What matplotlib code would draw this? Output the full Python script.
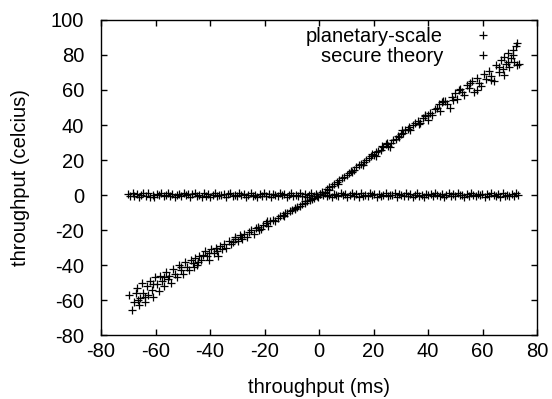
import matplotlib
matplotlib.use("Agg")
import matplotlib.pyplot as plt

plt.rcParams['font.family'] = ['Liberation Sans', 'DejaVu Sans']
plt.rcParams['axes.unicode_minus'] = False

# series 1: diagonal band
planetary = [
    (-69.8, -57), (-68.6, -65.5), (-68.0, -61), (-67.3, -56), (-66.8, -53), (-66.2, -63),
    (-65.6, -59), (-65.0, -50), (-64.5, -56), (-63.8, -61), (-63.2, -52), (-62.7, -57),
    (-62.0, -49), (-61.4, -54), (-60.8, -58), (-60.2, -47), (-59.5, -51), (-58.8, -55),
    (-58.2, -46), (-57.6, -49), (-57.0, -52), (-56.3, -44), (-55.6, -48), (-54.9, -46),
    (-54.2, -50), (-53.5, -42), (-52.8, -45), (-52.1, -47), (-51.4, -40), (-50.7, -43),
    (-50.0, -45), (-49.2, -38), (-48.5, -41), (-47.8, -43), (-47.0, -37), (-46.3, -39),
    (-45.6, -36), (-44.9, -40), (-44.1, -35), (-43.4, -37), (-42.6, -34), (-41.8, -32),
    (-41.0, -35), (-40.3, -37), (-39.5, -31), (-38.7, -33), (-37.9, -30), (-37.2, -35),
    (-36.4, -29), (-35.6, -31), (-34.8, -28), (-34.0, -30), (-33.2, -26), (-32.4, -28),
    (-31.5, -27), (-30.7, -24), (-29.9, -26), (-29.0, -23), (-28.2, -25), (-27.4, -22),
    (-26.5, -24), (-25.7, -21), (-24.8, -20), (-24.0, -22), (-23.1, -19), (-22.3, -18),
    (-21.4, -19.5), (-20.5, -17), (-19.6, -16), (-18.8, -17.5), (-17.9, -15), (-17.0, -14),
    (-16.1, -15), (-15.2, -13), (-14.3, -12), (-13.4, -11.5), (-12.5, -10.5), (-11.6, -10),
    (-10.7, -9), (-9.8, -8.5), (-8.9, -7.5), (-8.0, -7), (-7.1, -6), (-6.2, -5),
    (-5.3, -4.5), (-4.4, -3.5), (-3.5, -3), (-2.6, -2), (-1.7, -1.5), (-0.8, -0.5),
    (0.2, 0.5), (1.1, 1.5), (2.0, 2), (2.9, 3.5), (3.8, 4.5), (4.7, 5),
    (5.6, 6.5), (6.5, 7.5), (7.4, 8.5), (8.3, 9.5), (9.2, 10.5), (10.1, 11.5),
    (11.0, 12.5), (11.9, 14), (12.8, 14.5), (13.7, 16), (14.6, 17), (15.5, 17.5),
    (16.4, 19), (17.3, 20), (18.2, 21), (19.1, 22.5), (20.0, 23), (20.9, 24.5),
    (21.8, 25), (22.7, 26), (23.6, 27.5), (24.5, 29), (25.4, 28), (26.3, 30),
    (27.2, 31.5), (28.1, 32), (29.0, 34), (29.9, 35), (30.8, 35.5), (31.7, 37),
    (32.6, 38), (33.5, 37), (34.4, 40), (35.3, 41), (36.2, 42.5), (37.1, 41),
    (38.0, 44), (38.9, 45), (39.8, 43), (40.7, 47), (41.6, 46), (42.5, 49),
    (43.4, 50), (44.3, 48), (45.2, 53), (46.1, 54), (47.0, 52), (47.9, 50),
    (48.8, 56), (49.7, 58), (50.6, 55), (51.5, 60), (52.4, 59), (53.3, 57),
    (54.2, 63), (55.1, 61), (56.0, 65), (56.9, 59), (57.8, 67), (58.7, 64),
    (59.6, 62), (60.5, 69), (61.4, 66), (62.3, 71), (63.2, 68), (64.1, 65),
    (65.0, 74), (65.9, 70), (66.8, 77), (67.4, 72), (68.0, 79), (68.6, 75),
    (69.2, 81), (69.8, 73), (70.4, 78), (71.0, 83), (71.6, 76), (72.2, 85),
    (72.8, 87), (73.5, 75),
    # extra points in the denser clusters
    (-66.5, -60), (-64.0, -58), (-61.0, -51), (-57.0, -47), (-50.5, -41), (-46.0, -41),
    (-44.5, -38), (-40.5, -33), (-37.5, -32), (-31.0, -25), (-28.5, -24), (-22.0, -20),
    (-19.0, -15), (-13.0, -12), (-9.0, -8), (-5.0, -3.5), (3.5, 3), (7.0, 6.5),
    (12.0, 13), (16.0, 17), (19.5, 23.5), (21.0, 22.5), (23.0, 28), (25.0, 30),
    (26.0, 27.5), (29.5, 33), (30.5, 37), (33.0, 39), (36.5, 40.5), (39.0, 46),
    (40.0, 45.5), (44.0, 52), (45.5, 54), (49.0, 54.5), (51.8, 60.5), (55.5, 64),
    (58.0, 60), (63.0, 65.5), (66.0, 73), (67.8, 68.5), (69.5, 76), (71.3, 80),
    (72.5, 74),
]

# series 2: flat line near zero
secure = [
    (-70.1, 0.4), (-69.3, -0.8), (-68.4, 1.1), (-67.8, -0.3), (-66.9, 0.7), (-66.0, -1.2),
    (-65.2, 0.1), (-64.5, 0.9), (-63.6, -0.5), (-62.9, 1.3), (-62.0, -0.9), (-61.1, 0.2),
    (-60.4, -1.1), (-59.5, 0.6), (-58.8, -0.1), (-57.9, 1.0), (-57.0, -0.7), (-56.3, 0.3),
    (-55.4, 1.2), (-54.6, -0.4), (-53.8, 0.8), (-53.0, -1.0), (-52.1, 0.0), (-51.4, 0.5),
    (-50.5, -0.6), (-49.7, 1.1), (-48.9, -0.2), (-48.0, 0.7), (-47.2, -1.3), (-46.5, 0.4),
    (-45.6, 0.9), (-44.8, -0.5), (-44.0, 0.2), (-43.1, -0.9), (-42.3, 1.2), (-41.6, -0.3),
    (-40.7, 0.6), (-39.9, -1.1), (-39.0, 0.1), (-38.3, 1.0), (-37.4, -0.6), (-36.6, 0.3),
    (-35.8, -0.2), (-34.9, 0.8), (-34.1, -1.0), (-33.4, 0.5), (-32.5, 1.3), (-31.7, -0.4),
    (-30.8, 0.0), (-30.0, -0.8), (-29.2, 0.9), (-28.5, -0.1), (-27.6, 0.6), (-26.8, -1.2),
    (-25.9, 0.3), (-25.1, 1.1), (-24.3, -0.5), (-23.5, 0.2), (-22.6, -0.9), (-21.8, 0.7),
    (-21.0, -0.3), (-20.2, 1.0), (-19.3, -0.7), (-18.5, 0.4), (-17.7, -1.1), (-16.9, 0.8),
    (-16.0, 0.0), (-15.2, -0.6), (-14.4, 1.2), (-13.5, -0.2), (-12.7, 0.5), (-11.9, -1.0),
    (-11.1, 0.3), (-10.2, 0.9), (-9.4, -0.4), (-8.6, 0.1), (-7.7, -0.8), (-6.9, 1.1),
    (-6.1, -0.3), (-5.3, 0.6), (-4.4, -1.2), (-3.6, 0.2), (-2.8, 1.0), (-2.0, -0.5),
    (-1.1, 0.4), (-0.3, -0.9), (0.5, 0.7), (1.4, -0.1), (2.2, 1.2), (3.0, -0.7),
    (3.8, 0.3), (4.7, -1.0), (5.5, 0.8), (6.3, 0.0), (7.1, -0.6), (8.0, 1.1),
    (8.8, -0.2), (9.6, 0.5), (10.4, -1.1), (11.3, 0.2), (12.1, 0.9), (12.9, -0.4),
    (13.7, 0.6), (14.6, -0.9), (15.4, 1.3), (16.2, -0.3), (17.0, 0.1), (17.9, -0.7),
    (18.7, 1.0), (19.5, -0.1), (20.3, 0.4), (21.2, -1.2), (22.0, 0.7), (22.8, -0.5),
    (23.6, 0.2), (24.5, 1.1), (25.3, -0.8), (26.1, 0.3), (26.9, -0.2), (27.8, 0.9),
    (28.6, -1.0), (29.4, 0.5), (30.2, 0.0), (31.1, -0.6), (31.9, 1.2), (32.7, -0.3),
    (33.5, 0.6), (34.4, -0.9), (35.2, 0.1), (36.0, 1.0), (36.8, -0.4), (37.7, 0.3),
    (38.5, -1.1), (39.3, 0.8), (40.1, -0.2), (41.0, 0.4), (41.8, -0.7), (42.6, 1.1),
    (43.4, 0.0), (44.3, -0.5), (45.1, 0.7), (45.9, -1.2), (46.7, 0.2), (47.6, 0.9),
    (48.4, -0.3), (49.2, 0.5), (50.0, -0.8), (50.9, 1.2), (51.7, -0.1), (52.5, 0.3),
    (53.3, -1.0), (54.2, 0.6), (55.0, -0.4), (55.8, 1.0), (56.6, 0.1), (57.5, -0.7),
    (58.3, 0.8), (59.1, -0.2), (59.9, 0.4), (60.8, -1.1), (61.6, 0.7), (62.4, -0.5),
    (63.2, 1.1), (64.1, 0.0), (64.9, -0.6), (65.7, 0.5), (66.5, -0.9), (67.4, 0.9),
    (68.2, -0.3), (69.0, 0.2), (69.8, -0.8), (70.7, 0.6), (71.5, -0.4), (72.3, 1.0),
    (73.0, -0.1),
]

x_ticks = [-80, -60, -40, -20, 0, 20, 40, 60, 80]
y_ticks = [-80, -60, -40, -20, 0, 20, 40, 60, 80, 100]

fig = plt.figure(figsize=(5.52, 3.99), dpi=100)
ax = fig.add_axes([0.183, 0.160, 0.790, 0.790])

px, py = zip(*planetary)
sx, sy = zip(*secure)
ax.plot(px, py, '+', color='black', markersize=5.5, markeredgewidth=0.9, label='planetary-scale')
ax.plot(sx, sy, '+', color='black', markersize=5.5, markeredgewidth=0.9, label='secure theory')

ax.set_xlim(-80, 80)
ax.set_ylim(-80, 100)
ax.set_xticks(x_ticks)
ax.set_yticks(y_ticks)
ax.tick_params(direction='in', top=True, right=True, length=4, width=1, labelsize=14.5)
ax.tick_params(axis='y', pad=12)
ax.tick_params(axis='x', pad=5)
for s in ax.spines.values():
    s.set_linewidth(1)

ax.set_xlabel('throughput (ms)', fontsize=14.5, labelpad=12)
ax.set_ylabel('throughput (celcius)', fontsize=14.5, labelpad=15)

ax.legend(loc='upper right', bbox_to_anchor=(0.953, 1.035), markerfirst=False, frameon=False,
          fontsize=14.5, handlelength=1.5, handletextpad=1.25, labelspacing=0.05,
          borderpad=0.4)

fig.savefig('out.png', dpi=100)
